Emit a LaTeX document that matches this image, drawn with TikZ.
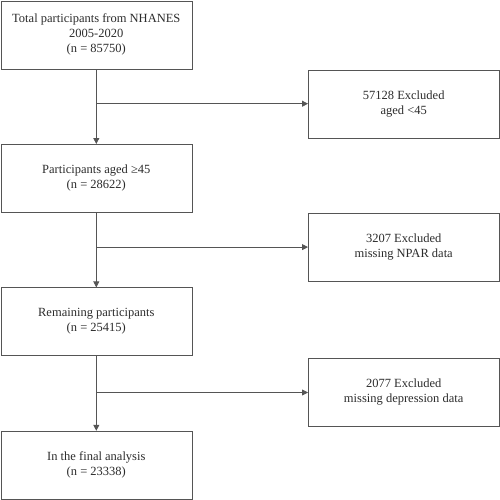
\documentclass[tikz,border=0pt]{standalone}
\usepackage{fontspec}
\setmainfont{Liberation Serif}
\usepackage{xcolor}
\definecolor{Box Gray}{HTML}{555555}
\definecolor{Ink Gray}{HTML}{2b2b2b}
\colorlet{cLine}{Box Gray}
\colorlet{cText}{Ink Gray}
\usetikzlibrary{positioning, arrows.meta}
\tikzset{
	node distance = 75pt,
	line width = .9pt,
	>={Triangle[length=6pt, width=6pt]},
	font = \fontsize{12.5}{15}\selectfont,
	step box/.style={
		draw=cLine,
		text=cText,
		align=center,
		minimum width=191pt,
		minimum height=68pt,
		inner sep=2pt
	},
	excl box/.style={
		step box,
		anchor=north west
	},
	flow/.style={
		->,
		draw=cLine,
		line width=.8pt
	}
}

\begin{document}
\begin{tikzpicture}
		\useasboundingbox (0,0) rectangle (500pt,-499pt);
% ---
% main column
% ---
\node[step box, anchor=north west] at (0.6pt,-0.6pt) (total) {Total participants from NHANES\\2005-2020\\(n = 85750)};
\node[step box, below=of total] (aged) {Participants aged ≥45\\(n = 28622)};
\node[step box, below=of aged] (remain) {Remaining participants\\(n = 25415)};
\node[step box, below=of remain] (final) {In the final analysis\\(n = 23338)};

% ---
% exclusions
% ---
\node[excl box, below right=0.5pt and 116pt of total.south east] (ex-age) {57128 Excluded\\aged <45};
\node[excl box, below right=0.5pt and 116pt of aged.south east] (ex-npar) {3207 Excluded\\missing NPAR data};
\node[excl box, below right=2.5pt and 116pt of remain.south east] (ex-dep) {2077 Excluded\\missing depression data};

\draw[flow] (total) to (aged);
\draw[flow] (aged) to (remain);
\draw[flow] (remain) to (final);
\draw[flow] (total.south |- ex-age.west) to (ex-age.west);
\draw[flow] (aged.south |- ex-npar.west) to (ex-npar.west);
\draw[flow] (remain.south |- ex-dep.west) to (ex-dep.west);
	\end{tikzpicture}
\end{document}
